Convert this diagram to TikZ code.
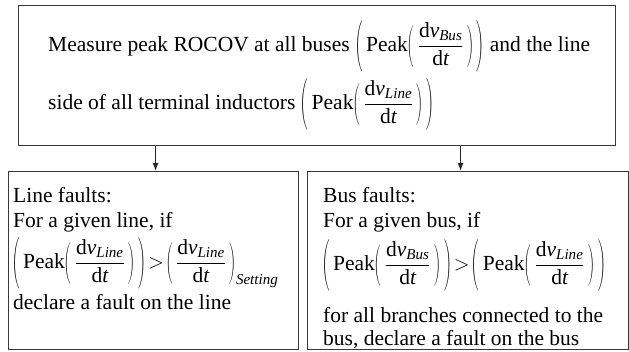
\documentclass[tikz,border=0pt]{standalone}
\usepackage{fontspec}
\usepackage{graphicx}
\setmainfont{Liberation Serif}
\usetikzlibrary{arrows.meta}

% a parenthesis stretched to a given width and total height, centred on the math axis
\newcommand\vpar[3]{\vcenter{\hbox{\resizebox*{#1}{#2}{$#3$}}}}
% rate of change of voltage, d v_X / d t
\newcommand\dvdt[1]{\displaystyle\frac{\mathrm{d}\mathit{v}_{\mathit{#1}}}{\mathrm{d}\mathit{t}}}
% parentheses of two heights
\newcommand\inpar[1]{\mathopen{\vpar{6.5pt}{42pt}{\Biggl(}}\,#1\,\mathclose{\vpar{6.5pt}{42pt}{\Biggr)}}}
\newcommand\outpar[1]{\mathopen{\vpar{7.5pt}{52pt}{\Biggl(}}\,#1\,\mathclose{\vpar{7.5pt}{52pt}{\Biggr)}}}
% Peak( dv/dt ) wrapped in outer parentheses
\newcommand\peakof[1]{\outpar{\mathrm{Peak}\inpar{\dvdt{#1}}}}

\tikzset{
  frame/.style={draw=black!78, line width=1.1pt, inner sep=0pt},
  txt/.style={anchor=west, inner sep=0pt, font=\fontsize{21.5}{26}\selectfont},
  flow/.style={draw=black!85, line width=1pt, -{Latex[length=8pt,width=6pt]}}
}

\begin{document}
\begin{tikzpicture}[x=1pt,y=1pt]
  \useasboundingbox (0,0) rectangle (629,351);

  % boxes
  \node[frame, minimum width=597pt, minimum height=140pt, anchor=south west] (top) at (18,205) {};
  \node[frame, minimum width=290pt, minimum height=178pt, anchor=south west] (lf) at (8,1) {};
  \node[frame, minimum width=321pt, minimum height=178pt, anchor=south west] (bf) at (306.5,1) {};

  % top box text
  \node[txt] (t1) at (48,305) {Measure peak ROCOV at all buses $\peakof{Bus}$ and the line};
  \node[txt] (t2) at (48,247) {side of all terminal inductors $\peakof{Line}$};

  % line faults
  \node[txt] (l1) at (13,156) {Line faults:};
  \node[txt] (l2) at (13,129) {For a given line, if};
  \node[txt] (l3) at (12,88) {$\peakof{Line}\!>\!\inpar{\dvdt{Line}}_{\mathit{Setting}}$};
  \node[txt] (l4) at (13,49) {declare a fault on the line};

  % bus faults
  \node[txt] (b1) at (323,156) {Bus faults:};
  \node[txt] (b2) at (323,129) {For a given bus, if};
  \node[txt] (b3) at (322,86) {$\peakof{Bus}\!>\!\peakof{Line}$};
  \node[txt] (b4) at (323,36) {for all branches connected to the};
  \node[txt] (b5) at (323,11) {bus, declare a fault on the bus};

  % connectors
  \draw[flow] ([xshift=2pt]lf.north |- top.south) -- ([xshift=2pt]lf.north);
  \draw[flow] ([xshift=-7pt]bf.north |- top.south) -- ([xshift=-7pt]bf.north);
\end{tikzpicture}
\end{document}
